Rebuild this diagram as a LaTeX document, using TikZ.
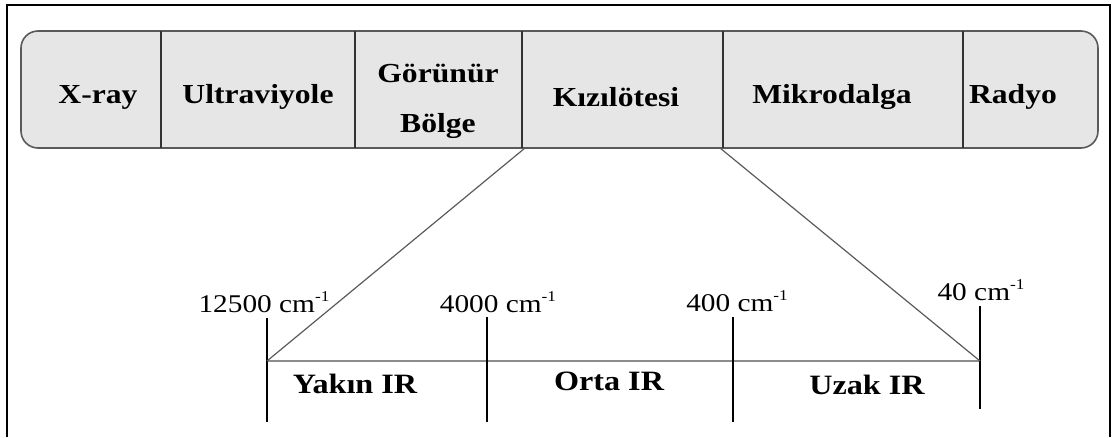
\documentclass[tikz,border=0pt]{standalone}
\usepackage{fontspec}
\setmainfont[FakeStretch=1.15]{Liberation Serif}
\definecolor{bandfill}{HTML}{E6E6E6}
\definecolor{bandedge}{HTML}{5A5A5A}
\definecolor{axisgray}{HTML}{8C8C8C}
% reciprocal centimetre with a small raised exponent
\newcommand{\invcm}{cm\raisebox{0.42em}{\fontsize{15}{15}\selectfont-1}}
\begin{document}
\begin{tikzpicture}[x=1pt,y=-1pt,
  band/.style={fill=bandfill,draw=bandedge,line width=1.6pt,rounded corners=17pt},
  divider/.style={draw=black!80,line width=1.3pt},
  region/.style={font=\fontsize{27.5}{50}\selectfont\bfseries,align=center,inner sep=0pt},
  wavenum/.style={font=\fontsize{25.5}{30}\selectfont,inner sep=0pt,anchor=base},
  irband/.style={font=\fontsize{28}{31}\selectfont\bfseries,inner sep=0pt,anchor=base},
  tick/.style={draw=black,line width=1.2pt},
  zoomline/.style={draw=bandedge,line width=1.2pt},
  axis/.style={draw=axisgray,line width=2.6pt}]
\useasboundingbox (0,0) rectangle (1114,437);
% outer frame, open at the bottom
\draw[line width=2pt] (7,437) -- (7,5) -- (1110,5) -- (1110,437);
% spectrum band
\draw[band] (21,31) rectangle (1098,148);
\foreach \x in {161,355,522,723,963}
  \draw[divider] (\x,31) -- (\x,148);
\node[region] (xray)  at (98,97)  {X-ray};
\node[region] (uv)    at (258,97) {Ultraviyole};
\node[region] (vis)   at (438,101) {Görünür\\Bölge};
\node[region] (ir)    at (616,97) {Kızılötesi};
\node[region] (micro) at (832,97) {Mikrodalga};
\node[region] (radio) at (1013,97) {Radyo};
% infrared scale
\coordinate (irL) at (525,148);
\coordinate (irR) at (720,148);
\coordinate (a0) at (267,361);
\coordinate (a1) at (487,361);
\coordinate (a2) at (733,361);
\coordinate (a3) at (980,361);
\draw[axis] (a0) -- (a3);
\draw[tick] (267,318) -- (267,422);
\draw[tick] (487,317) -- (487,422);
\draw[tick] (733,317) -- (733,422);
\draw[tick] (980,306) -- (980,409);
\draw[zoomline] (irL) -- (a0);
\draw[zoomline] (irR) -- (a3);
\node[wavenum] (w0) at (264,312) {12500 \invcm};
\node[wavenum] (w1) at (498,312) {4000 \invcm};
\node[wavenum] (w2) at (737,311) {400 \invcm};
\node[wavenum] (w3) at (981,300) {40 \invcm};
\node[irband] (near) at (355,393) {Yakın IR};
\node[irband] (mid)  at (609,390) {Orta IR};
\node[irband] (far)  at (867,394) {Uzak IR};
\end{tikzpicture}
\end{document}
